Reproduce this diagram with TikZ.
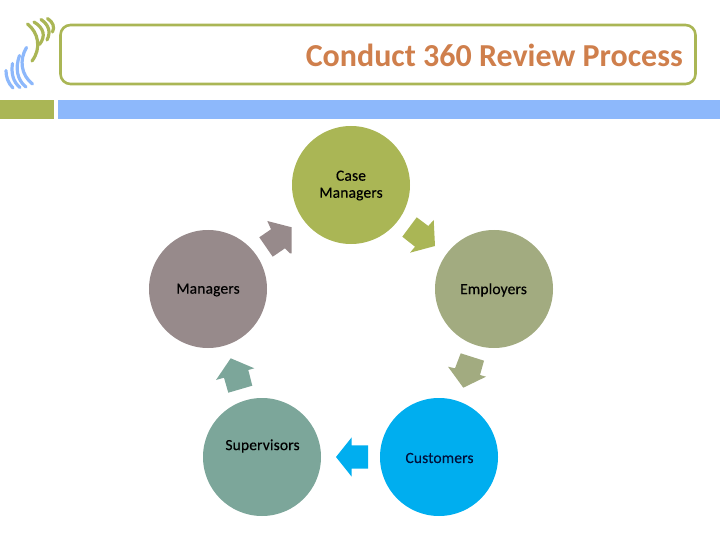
\documentclass[tikz,border=0pt]{standalone}
\usepackage{fontspec}
\setmainfont{Carlito}
\newfontfamily\labfont[FakeBold=0.4,LetterSpace=1]{Carlito}
\definecolor{olivec}{HTML}{AAB655}
\definecolor{barblue}{HTML}{8DB8FB}
\definecolor{titlec}{HTML}{CF7F4C}
\definecolor{mgr}{HTML}{978A8B}
\definecolor{emp}{HTML}{A2AB80}
\definecolor{sup}{HTML}{7CA69A}
\definecolor{cust}{HTML}{00AEEF}
\definecolor{custtext}{HTML}{00103A}
\tikzset{
  circ/.style={circle,minimum size=118pt,inner sep=0pt,draw=none},
  lab/.style={font=\labfont\fontsize{15.5}{17}\selectfont,text=black,align=center,inner sep=0pt},
  wave/.style={line width=3.2pt,line cap=round}
}
\begin{document}
\begin{tikzpicture}[x=1pt,y=-1pt]
\useasboundingbox (0,0) rectangle (720,540);
% header
\fill[olivec] (0,100) rectangle (54,119);
\fill[barblue] (57.5,100) rectangle (720,119);
\node[draw=olivec,line width=2.6pt,rounded corners=10pt,minimum width=635pt,minimum height=59pt,inner sep=0pt] (titlebox) at (378,54.5) {};
\node[anchor=east,inner sep=0pt,text=titlec,font=\fontsize{32}{36}\selectfont\bfseries] (title) at (683,55) {Conduct 360 Review Process};
% logo
\begin{scope}[olivec,wave]
\draw (27.5,24) .. controls (38,32) and (42,48) .. (32,61);
\draw (34,22) .. controls (44,28) and (46,36) .. (39.5,44.5);
\draw (41,19.5) .. controls (49,25) and (51,32) .. (47,40);
\draw (47.5,18.5) .. controls (53,22) and (55,27) .. (52.5,32);
\end{scope}
\begin{scope}[barblue,wave]
\draw (26.5,47.5) .. controls (19,60) and (21,75) .. (32.5,84);
\draw (19.5,55.5) .. controls (15,68) and (17,80) .. (26,87);
\draw (12.5,63.5) .. controls (11,73) and (13,82) .. (20,87.5);
\draw (6,70.5) .. controls (6,77) and (8,83) .. (13,88);
\end{scope}
% circles
\node[circ,fill=olivec] (case) at (351,185) {};
\node[circ,fill=mgr] (managers) at (208,289) {};
\node[circ,fill=emp] (employers) at (494,289) {};
\node[circ,fill=sup] (supervisors) at (262,457) {};
\node[circ,fill=cust] (customers) at (439,457) {};
% labels
\node[lab] (l1) at (351,185.5) {Case\\Managers};
\node[lab] (l2) at (208,290) {Managers};
\node[lab] (l3) at (493.5,290) {Employers};
\node[lab] (l4) at (262.5,446) {Supervisors};
\node[lab,text=custtext] (l5) at (439.5,458) {Customers};
% arrows
\fill[mgr] (267.3,221) -- (291.7,227.3) -- (291.7,253.3) -- (290,253.3) -- (285,248.3) -- (272.7,256.7) -- (259.3,237.3) -- (271,229.3) -- cycle;
\fill[olivec] (416.7,217.3) -- (428.3,226) -- (433.7,220) -- (435,246) -- (410,252.7) -- (415,246.7) -- (402.3,236.7) -- cycle;
\fill[emp] (460.7,353.3) -- (484,360.7) -- (480,375) -- (486,376.7) -- (463.3,387.7) -- (448,366.7) -- (455,368.3) -- cycle;
\fill[cust] (368,445.3) -- (368,468.7) -- (351.7,468.7) -- (351.7,476.7) -- (336,457) -- (351.7,437.3) -- (351.7,445.3) -- cycle;
\fill[sup] (228.3,392.7) -- (252.3,385.7) -- (248.3,370) -- (254.3,368.3) -- (230.7,358.3) -- (216,380) -- (224,377.7) -- cycle;
\end{tikzpicture}
\end{document}
